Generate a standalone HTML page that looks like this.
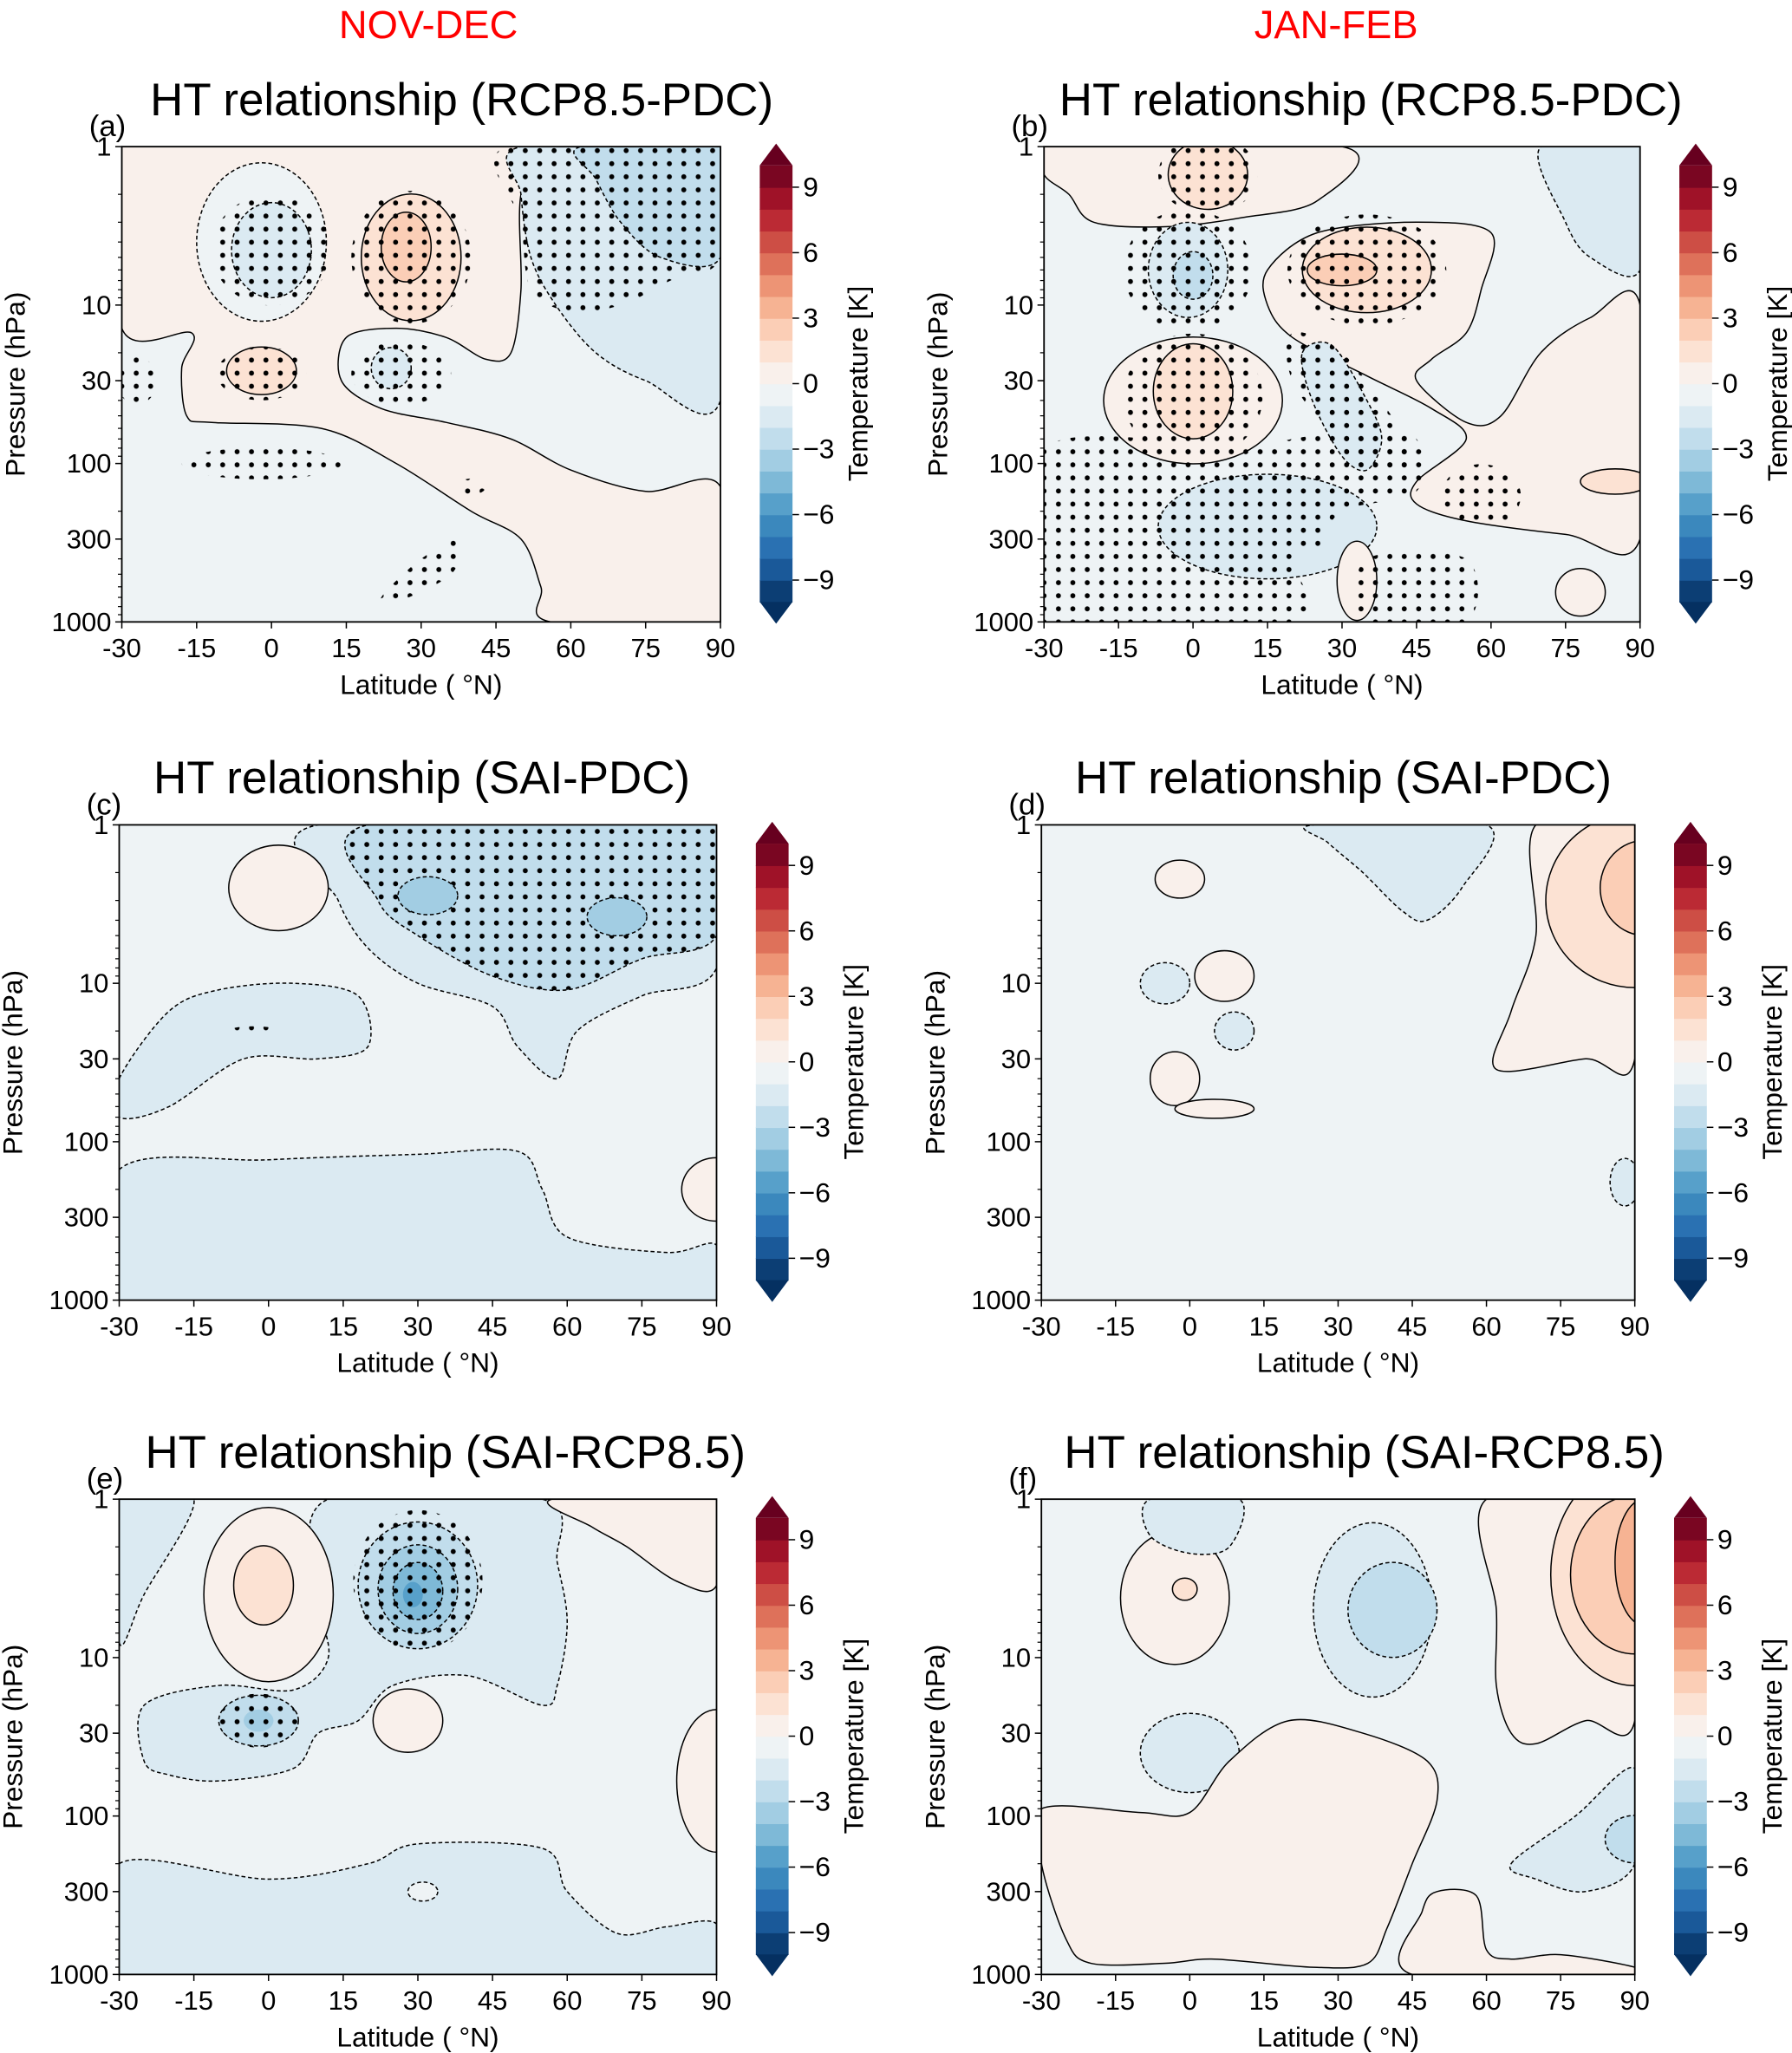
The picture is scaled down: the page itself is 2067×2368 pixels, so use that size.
<!DOCTYPE html>
<html><head><meta charset="utf-8"><style>
html,body{margin:0;padding:0;background:#fff}
svg{display:block}
text{font-family:"Liberation Sans",sans-serif}
</style></head><body>
<svg id="fig" width="2067" height="2368" viewBox="0 0 1368 1568" preserveAspectRatio="none" xmlns="http://www.w3.org/2000/svg">
<defs>
<pattern id="dots" patternUnits="userSpaceOnUse" width="11" height="10"><circle cx="5" cy="5" r="1.9" fill="#000"/></pattern>
</defs>
<text x="327" y="29" font-size="30" fill="#ff0000" text-anchor="middle">NOV-DEC</text>
<text x="1020" y="29" font-size="30" fill="#ff0000" text-anchor="middle">JAN-FEB</text>
</svg>
<script>
// Panel geometry (layout only)
const geomL=[93,797,91,795,91,795];
const geomT=[112,112,630,630,1145,1145];
const geomR=[550,1252,547,1248,547,1248];
const geomB=[475,475,993,993,1508,1508];
const titleShift=[31,22,3,4,21,20];
const titles=["HT relationship (RCP8.5-PDC)","HT relationship (RCP8.5-PDC)","HT relationship (SAI-PDC)","HT relationship (SAI-PDC)","HT relationship (SAI-RCP8.5)","HT relationship (SAI-RCP8.5)"];
const letters=["(a)","(b)","(c)","(d)","(e)","(f)"];
const latTicks=[-30,-15,0,15,30,45,60,75,90];
const pTicks=[1,10,30,100,300,1000];
const cbTicks=[9,6,3,0,-3,-6,-9];
const cbLabels=["9","6","3","0","\u22123","\u22126","\u22129"];
// Contour regions: ['e',lat,p,halfWidthLat,halfHeightDecades,value,stipple,line] or ['p',value,stipple,line,lat,p,...]
const panelA=[
 ['p',0.5,0,1,-30,1,55,1,50,2,50,8,48,20,43,22,35,16,25,14,15,16,14,30,22,45,35,55,48,70,60,110,75,150,90,140,90,1000,56,1000,54,600,50,300,40,200,25,100,10,60,-12,55,-17,50,-18,25,-16,15,-30,14],
 ['e',-2,4,13,0.5,-0.5,0,1],['e',0,4.5,8,0.3,-1.5,0,1],
 ['e',28,5,10,0.4,1.5,0,1],['e',27,4.3,5,0.22,2.5,0,1],
 ['e',-2,26,7,0.15,1.5,0,1],['e',24,25,4,0.13,-1.5,0,1],
 ['p',-1.5,0,1,50,1,90,1,90,40,75,30,65,20,57,10,52,5,50,2],
 ['p',-2.5,0,1,62,1,90,1,90,5,78,5,70,3,65,1.6],
 ['e',0,4.5,12,0.35,null,1,0],['e',28,5,12,0.42,null,1,0],['e',-2,27,9,0.17,null,1,0],['e',26,27,10,0.2,null,1,0],
 ['p',null,1,0,47,1,90,1,90,5,80,7,70,10,60,11,52,8,50,3],
 ['e',-27,30,4,0.15,null,1,0],['e',-2,100,16,0.1,null,1,0],['e',40,140,3,0.05,null,1,0],
 ['p',null,1,0,22,700,30,400,38,300,36,500,25,750]
];
const panelB=[
 ['p',0.5,0,1,-30,1,30,1,25,2.2,10,2.8,-5,3.2,-20,3,-25,2,-30,1.5],
 ['e',3,1.5,8,0.22,1.5,0,1],
 ['p',0.5,0,1,15,6,25,3.5,45,3,60,3.5,58,8,55,15,48,22,45,30,55,55,62,50,70,20,80,12,90,10,90,300,75,280,55,230,45,180,45,130,55,70,48,45,35,28,20,16,15,10],
 ['p',-1.5,0,1,70,1,90,1,90,6,80,5,75,3],
 ['e',35,6,13,0.27,1.5,0,1],['e',30,6,7,0.1,2.5,0,1],
 ['e',0,40,18,0.4,0.5,0,1],['e',0,35,8,0.3,1.5,0,1],
 ['e',-1,6,8,0.3,-1.5,0,1],['e',0,6.5,4,0.15,-2.5,0,1],
 ['p',-1.5,0,1,22,20,28,18,35,40,38,70,35,110,30,90,24,40],
 ['e',15,250,22,0.33,-1.5,0,1],['e',85,130,7,0.08,1.5,0,1],
 ['e',33,550,4,0.25,0.5,0,1],['e',78,650,5,0.15,0.5,0,1],
 ['p',null,1,0,-30,80,10,80,20,70,35,60,45,70,45,150,30,200,25,350,20,400,20,1000,-30,1000],
 ['p',null,1,0,35,400,55,400,55,1000,35,1000],
 ['e',3,1.5,10,0.25,null,1,0],['e',-1,6,13,0.38,null,1,0],['e',35,6,16,0.35,null,1,0],['e',0,38,14,0.4,null,1,0],
 ['p',null,1,0,20,15,30,20,40,50,45,90,38,120,30,80,20,30],['e',58,160,8,0.2,null,1,0]
];
const panelC=[
 ['p',-1.5,0,1,10,1,90,1,90,8,75,12,62,20,58,40,50,25,45,14,30,10,20,6,14,3],
 ['p',-2.5,1,1,20,1,90,1,90,5,75,7,60,11,45,9,30,5,22,3],
 ['e',32,2.8,6,0.12,-3.5,0,1],['e',70,3.8,6,0.12,-3.5,0,1],
 ['e',2,2.5,10,0.27,0.5,0,1],
 ['p',-1.5,0,1,-30,40,-20,15,-10,11,5,10,18,12,20,25,10,30,-5,30,-20,60,-30,70],
 ['p',-1.5,0,1,-30,150,0,130,30,120,50,115,55,200,60,400,80,500,90,450,90,1000,-30,1000],
 ['e',90,200,7,0.2,0.5,0,1],['e',-3,20,5,0.03,null,1,0]
];
const panelD=[
 ['p',0.5,0,1,70,1,90,1,90,30,80,30,62,35,65,15,70,5],
 ['e',90,3,18,0.55,1.5,0,1],['e',92,2.5,9,0.3,2.5,0,1],
 ['p',-1.5,0,1,25,1,60,1,55,2.5,48,4,43,3.5,35,2,28,1.3],
 ['e',-2,2.2,5,0.12,0.5,0,1],['e',7,9,6,0.16,0.5,0,1],['e',-3,40,5,0.17,0.5,0,1],['e',5,62,8,0.06,0.5,0,1],
 ['e',-5,10,5,0.13,-1.5,0,1],['e',9,20,4,0.12,-1.5,0,1],['e',88,180,3,0.15,-1.5,0,1]
];
const panelE=[
 ['p',-1.5,0,1,-30,1,-15,1,-25,4,-30,8],
 ['p',-1.5,0,1,12,1,55,1,58,2.5,60,6,58,15,55,20,40,13,25,15,18,25,10,30,5,50,-10,60,-20,55,-25,45,-25,20,-10,15,5,16,12,10,10,4],
 ['e',0,4,13,0.55,0.5,0,1],['e',-1,3.5,6,0.25,1.5,0,1],
 ['e',30,3.5,12,0.4,-2.5,0,1],['e',30,3.7,8,0.28,-3.5,0,1],['e',30,3.8,5,0.18,-4.5,0,1],['e',29,4,2,0.08,-5.5,0,0],
 ['e',28,25,7,0.2,0.5,0,1],['e',-2,25,8,0.16,-2.5,0,1],['e',-2,25,3,0.07,-3.5,0,0],
 ['p',0.5,0,1,57,1,90,1,90,3.5,82,3.3,72,2,65,1.5],
 ['e',90,60,8,0.45,0.5,0,1],
 ['p',-1.5,0,1,-30,200,0,250,20,200,30,150,55,160,60,300,70,550,80,500,90,480,90,1000,-30,1000],
 ['e',31,300,3,0.06,-0.5,0,1],
 ['e',30,3.3,13,0.45,null,1,0],['e',-2,25,8,0.17,null,1,0]
];
const panelF=[
 ['e',-3,4.2,11,0.42,0.5,0,1],['e',-1,3.7,2.5,0.07,1.5,0,1],
 ['e',37,5,12,0.55,-1.5,0,1],['e',41,5,9,0.3,-2.5,0,1],
 ['p',-1.5,0,1,-8,1,10,1,8,2,0,2.2,-8,1.7],
 ['p',0.5,0,1,60,1,90,1,90,25,80,25,70,35,65,30,62,15,62,5],
 ['e',90,3,17,0.7,1.5,0,1],['e',90,3,13,0.5,2.5,0,1],['e',92,2.5,6,0.4,3.5,0,1],
 ['e',0,40,10,0.25,-1.5,0,1],
 ['p',0.5,0,1,-30,90,-10,95,0,95,8,45,20,25,35,30,48,45,50,80,45,200,40,500,36,850,25,900,5,800,-5,850,-20,850,-25,600,-30,200],
 ['p',0.5,0,1,45,1000,47,400,50,300,58,320,60,700,65,800,75,750,90,900,90,1000],
 ['p',-1.5,0,1,65,200,78,100,90,50,90,200,80,300,70,250],['e',90,140,6,0.15,-2.5,0,1]
];
const panels=[panelA,panelB,panelC,panelD,panelE,panelF];

const NS="http://www.w3.org/2000/svg";
const svg=document.getElementById('fig');
const stops=[[5,48,97],[33,102,172],[67,147,195],[146,197,222],[209,229,240],[247,247,247],[253,219,199],[244,165,130],[214,96,77],[178,24,43],[103,0,31]];
function cmap(v){let t=(v+10)/20*10;t=Math.max(0,Math.min(10,t));const i=Math.min(9,Math.floor(t)),f=t-i;const a=stops[i],b=stops[i+1];
 return 'rgb('+a.map((c,k)=>Math.round(c+(b[k]-c)*f)).join(',')+')';}
function mk(tag,attrs,parent){const e=document.createElementNS(NS,tag);for(const k in attrs)e.setAttribute(k,attrs[k]);(parent||svg).appendChild(e);return e;}
function smoothPath(P){const n=P.length;let d='M'+P[0][0].toFixed(1)+','+P[0][1].toFixed(1);
 for(let i=0;i<n;i++){const p0=P[(i-1+n)%n],p1=P[i],p2=P[(i+1)%n],p3=P[(i+2)%n];const k=0.16;
  const c1=[p1[0]+(p2[0]-p0[0])*k,p1[1]+(p2[1]-p0[1])*k],c2=[p2[0]-(p3[0]-p1[0])*k,p2[1]-(p3[1]-p1[1])*k];
  d+='C'+c1[0].toFixed(1)+','+c1[1].toFixed(1)+' '+c2[0].toFixed(1)+','+c2[1].toFixed(1)+' '+p2[0].toFixed(1)+','+p2[1].toFixed(1);}
 return d+'Z';}

panels.forEach((layers,pi)=>{
 const L=geomL[pi],T=geomT[pi],R=geomR[pi],B=geomB[pi];
 const xs=lat=>L+(lat+30)/120*(R-L);
 const ys=p=>T+Math.log10(p)/3*(B-T);
 const g=mk('g',{});
 
 
 const clipId='clip'+pi;
 const cp=mk('clipPath',{id:clipId},g);mk('rect',{x:L,y:T,width:R-L,height:B-T},cp);
 const plot=mk('g',{'clip-path':'url(#'+clipId+')'},g);
 
 
 const bg=mk('rect',{x:L,y:T,width:R-L,height:B-T,fill:cmap(-0.5)},plot);
 
 
 layers.forEach(s=>{
  let attrs,tag,val,stip,line;
  if(s[0]==='e'){tag='ellipse';val=s[5];stip=s[6];line=s[7];
   attrs={cx:xs(s[1]),cy:ys(s[2]),rx:s[3]/120*(R-L),ry:s[4]/3*(B-T)};}
  else{tag='path';val=s[1];stip=s[2];line=s[3];const pts=[];
   for(let i=4;i<s.length;i+=2)pts.push([xs(s[i]),ys(s[i+1])]);
   attrs={d:smoothPath(pts)};}
  if(val!==null){const a=Object.assign({},attrs,{fill:cmap(val)});
   if(line){a.stroke='#000';a['stroke-width']=1;if(val<0)a['stroke-dasharray']='3,2';}
   const e=mk(tag,a,plot);
   
   }
  if(stip){const e=mk(tag,Object.assign({},attrs,{fill:'url(#dots)'}),plot);
   
   }
 });
 const fr=mk('rect',{x:L,y:T,width:R-L,height:B-T,fill:'none',stroke:'#000','stroke-width':1.2},g);
 
 
 latTicks.forEach(v=>{const x=xs(v);mk('line',{x1:x,x2:x,y1:B,y2:B+5,stroke:'#000'},g);
  const t=mk('text',{x:x,y:B+27,'font-size':20.5,'text-anchor':'middle'},g);t.textContent=String(v);
  
  });
 for(let d=0;d<3;d++)for(let m=2;m<10;m++){const y=ys(m*Math.pow(10,d));mk('line',{x1:L-3,x2:L,y1:y,y2:y,stroke:'#000','stroke-width':0.8},g);}
 pTicks.forEach(v=>{const y=ys(v);mk('line',{x1:L-5,x2:L,y1:y,y2:y,stroke:'#000'},g);
  const t=mk('text',{x:L-8,y:y+7,'font-size':20.5,'text-anchor':'end'},g);t.textContent=String(v);
  
  });
 const xl=mk('text',{x:(L+R)/2,y:B+55,'font-size':21,'text-anchor':'middle'},g);xl.textContent='Latitude ( \u00b0N)';
 
 
 const yl=mk('text',{x:0,y:0,'font-size':21,'text-anchor':'middle',transform:'translate('+(L-74)+','+((T+B)/2)+') rotate(-90)'},g);yl.textContent='Pressure (hPa)';
 
 
 const tt=mk('text',{x:(L+R)/2+titleShift[pi],y:T-24,'font-size':35,'text-anchor':'middle'},g);tt.textContent=titles[pi];
 
 
 const lt=mk('text',{x:L-25,y:T-8,'font-size':23},g);lt.textContent=letters[pi];
 
 
 // colorbar
 const cx0=R+30,cw=25,c0=T+181,u=16.67;
 const cb=mk('g',{},g);
 
 
 for(let v=-10;v<10;v++){mk('rect',{x:cx0,y:c0-(v+1)*u,width:cw,height:u+0.5,fill:cmap(v+0.5)},cb);}
 mk('polygon',{points:cx0+','+(c0-10*u)+' '+(cx0+cw)+','+(c0-10*u)+' '+(cx0+cw/2)+','+(c0-11*u),fill:cmap(10)},cb);
 mk('polygon',{points:cx0+','+(c0+10*u)+' '+(cx0+cw)+','+(c0+10*u)+' '+(cx0+cw/2)+','+(c0+11*u),fill:cmap(-10)},cb);
 cbTicks.forEach((v,i)=>{const y=c0-v*u;mk('line',{x1:cx0+cw,x2:cx0+cw+5,y1:y,y2:y,stroke:'#000'},cb);
  const t=mk('text',{x:cx0+cw+8,y:y+7,'font-size':21},cb);t.textContent=cbLabels[i];
  
  });
 const cl=mk('text',{x:0,y:0,'font-size':21,'text-anchor':'middle',transform:'translate('+(cx0+cw+57)+','+c0+') rotate(-90)'},cb);cl.textContent='Temperature [K]';
 
 
});
</script>
</body></html>
